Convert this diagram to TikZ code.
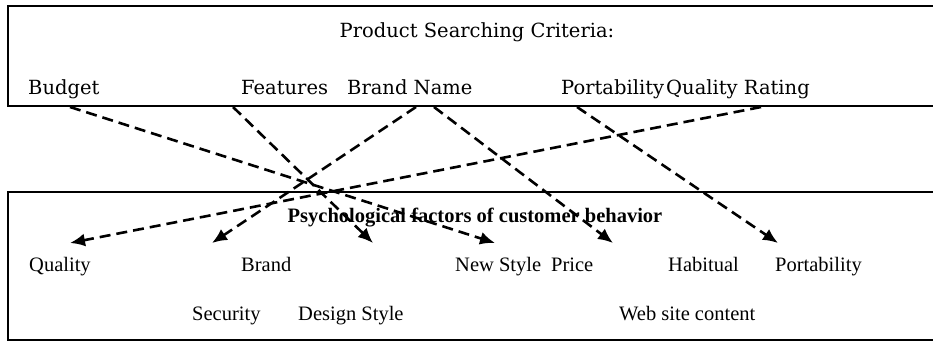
\documentclass[tikz,border=0pt]{standalone}
\usepackage{fontspec}
\setmainfont{Liberation Serif}
\newfontfamily\topfont{DejaVu Serif}
\usetikzlibrary{arrows.meta}
\tikzset{
  toplabel/.style={anchor=base west, inner sep=0pt, font=\topfont\fontsize{19.5}{22}\selectfont},
  botlabel/.style={anchor=base west, inner sep=0pt, font=\fontsize{20.5}{24}\selectfont},
  conn/.style={line width=2.6pt, dash pattern=on 11pt off 6pt, -{Latex[length=15pt,width=13pt]}},
}
\begin{document}
\begin{tikzpicture}[x=1pt,y=-1pt]
\useasboundingbox (0,0) rectangle (933,342);
% boxes
\draw[line width=2.8pt] (935,6) -- (8,6) -- (8,106) -- (935,106);
\draw[line width=1.8pt] (935,192) -- (8,192) -- (8,340) -- (935,340);
% top texts
\node[toplabel, anchor=base] (ttitle) at (477,38) {Product Searching Criteria:};
\node[toplabel] (budget) at (28,95) {Budget};
\node[toplabel] (features) at (241,95) {Features};
\node[toplabel] (brandname) at (347,95) {Brand Name};
\node[toplabel] (portab) at (561,95) {Portability};
\node[toplabel] (qrating) at (666,95) {Quality Rating};
% bottom texts
\node[botlabel, anchor=base, font=\bfseries\fontsize{20.5}{24}\selectfont] (btitle) at (475,222) {Psychological factors of customer behavior};
\node[botlabel] (quality) at (29,271) {Quality};
\node[botlabel] (brand) at (241,271) {Brand};
\node[botlabel] (newstyle) at (455,271) {New Style};
\node[botlabel] (price) at (551,271) {Price};
\node[botlabel] (habitual) at (668,271) {Habitual};
\node[botlabel] (portability) at (775,271) {Portability};
\node[botlabel] (security) at (192,320) {Security};
\node[botlabel] (design) at (298,320) {Design Style};
\node[botlabel] (website) at (619,320) {Web site content};
% connector ends
\coordinate (sBudget) at (70,107);
\coordinate (sFeat) at (233,107);
\coordinate (sBrandA) at (416,107);
\coordinate (sBrandB) at (434,107);
\coordinate (sPort) at (577,107);
\coordinate (sQual) at (761,107);
\coordinate (eQuality) at (70,243);
\coordinate (eBrand) at (212,243);
\coordinate (eDesign) at (373,243);
\coordinate (eNew) at (495,243);
\coordinate (ePrice) at (613,243);
\coordinate (ePort) at (778,243);
\draw[conn] (sBudget) -- (eNew);
\draw[conn] (sFeat) -- (eDesign);
\draw[conn] (sBrandA) -- (eBrand);
\draw[conn] (sBrandB) -- (ePrice);
\draw[conn] (sPort) -- (ePort);
\draw[conn] (sQual) -- (eQuality);
\end{tikzpicture}
\end{document}
